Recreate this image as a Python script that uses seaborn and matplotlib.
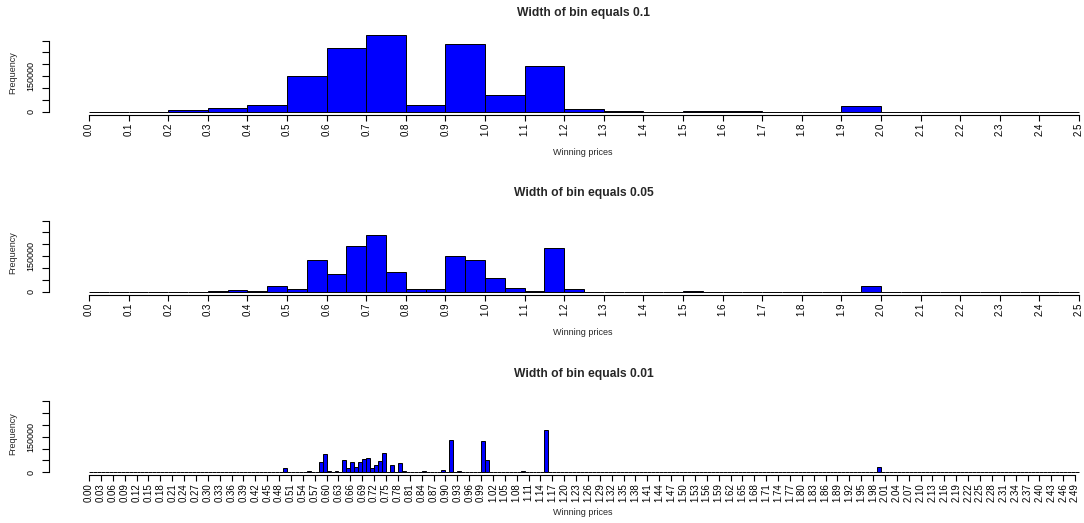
import numpy as np
import pandas as pd
import matplotlib
matplotlib.use("Agg")
import matplotlib.pyplot as plt
import seaborn as sns

# ---------------- data ----------------
# bin width 0.1 : left edges of non-empty bins and their counts
left_01 = [0.2, 0.3, 0.4, 0.5, 0.6, 0.7, 0.8, 0.9, 1.0, 1.1, 1.2, 1.3, 1.5, 1.6, 1.9]
count_01 = [5000, 17000, 30000, 149000, 271000, 324000, 28000, 285000, 70000,
            192000, 11000, 3000, 2500, 2500, 23000]

# bin width 0.05
left_005 = [0.30, 0.35, 0.40, 0.45, 0.50, 0.55, 0.60, 0.65, 0.70, 0.75, 0.80, 0.85,
            0.90, 0.95, 1.00, 1.05, 1.10, 1.15, 1.20, 1.50, 1.95]
count_005 = [4000, 8000, 4000, 23000, 11000, 133000, 75000, 192000, 241000, 82000,
             10000, 10000, 151000, 134000, 57000, 14000, 4000, 186000, 10000,
             3000, 22000]

# bin width 0.01
left_001 = [0.34, 0.38, 0.39, 0.49, 0.50, 0.52, 0.54, 0.55, 0.56, 0.58, 0.59, 0.60,
            0.61, 0.62, 0.63, 0.64, 0.65, 0.66, 0.67, 0.68, 0.69, 0.70, 0.71, 0.72,
            0.73, 0.74, 0.76, 0.78, 0.79, 0.83, 0.84, 0.85, 0.89, 0.91, 0.93, 0.94,
            0.99, 1.00, 1.07, 1.09, 1.15, 1.18, 1.19, 1.20, 1.21, 1.24, 1.53, 1.66,
            1.99]
count_001 = [3000, 3000, 3000, 17000, 3000, 3000, 3000, 7000, 3000, 42000, 78000, 7000,
             3000, 7000, 3000, 52000, 20000, 45000, 24000, 45000, 55000, 60000, 17000,
             31000, 48000, 81000, 31000, 38000, 7000, 3000, 7000, 3000, 10000, 137000,
             7000, 3000, 130000, 52000, 3000, 7000, 180000, 3000, 3000, 3000, 3000,
             3000, 3000, 3000, 21000]

titles = ["Width of bin equals 0.1", "Width of bin equals 0.05", "Width of bin equals 0.01"]
widths = [0.1, 0.05, 0.01]
y_ticks = [0, 50000, 100000, 150000, 200000, 250000, 300000]
y_tick_labels = ["0", "", "", "150000", "", "", ""]
x_label = "Winning prices"
y_label = "Frequency"

# ---------------- figure ----------------
sns.set_style("white")
plt.rcParams["font.family"] = ["Liberation Sans", "DejaVu Sans"]

W, H = 1084, 523
fig = plt.figure(figsize=(W / 100, H / 100), dpi=100)

left_px = 49.4
ax_w = (W - left_px) / W
ax_h = 83.3 / H
bottoms_px = [114.5, 294.5, 475.1]
x_right = -0.1 + (W - left_px) / 396.0

panels = [(left_01, count_01), (left_005, count_005), (left_001, count_001)]

for i, ((lefts, counts), w, title) in enumerate(zip(panels, widths, titles)):
    ax = fig.add_axes([left_px / W, 1 - bottoms_px[i] / H, ax_w, ax_h])
    n_bins = int(round(2.5 / w))
    df = pd.DataFrame({"price": np.array(lefts) + w / 2, "count": counts})
    sns.histplot(data=df, x="price", weights="count", bins=n_bins, binrange=(0, 2.5),
                 ax=ax, color="#0000FF", edgecolor="black", linewidth=0.7, alpha=1)

    ax.set_xlim(-0.1, x_right)
    ax.set_ylim(-12000, 340000)

    for s in ["top", "right"]:
        ax.spines[s].set_visible(False)
    ax.spines["left"].set_bounds(0, 300000)
    ax.spines["left"].set_linewidth(0.8)
    ax.spines["left"].set_color("black")
    ax.spines["bottom"].set_linewidth(0.8)
    ax.spines["bottom"].set_color("black")

    if w == 0.01:
        xt = np.round(np.arange(0, 2.5, 0.03), 2)
        xl = [f"{v:.2f}" for v in xt]
    else:
        xt = np.round(np.arange(0, 2.51, 0.1), 2)
        xl = [f"{v:.1f}" for v in xt]
    ax.spines["bottom"].set_bounds(xt[0], xt[-1])
    ax.set_xticks(xt)
    ax.set_xticklabels(xl, rotation=90, fontsize=7)
    ax.tick_params(axis="x", direction="out", length=4, width=0.8, pad=2,
                   bottom=True, colors="black")

    ax.set_yticks(y_ticks)
    ax.set_yticklabels(y_tick_labels, fontsize=6.5, rotation=90, va="center")
    ax.tick_params(axis="y", direction="out", length=5, width=0.8, pad=5,
                   left=True, colors="black")

    ax.set_xlabel(x_label, fontsize=6.5)
    ax.xaxis.set_label_coords((583 - left_px) / (W - left_px), -0.40)
    ax.set_ylabel(y_label, fontsize=6.5)
    ax.yaxis.set_label_coords((17.5 - left_px) / (W - left_px), 0.5)

    ax.set_title(title, fontsize=8.7, fontweight="bold",
                 x=(584 - left_px) / (W - left_px), pad=11)
    ax.grid(False)

fig.savefig("out.png", dpi=100, facecolor="white")
